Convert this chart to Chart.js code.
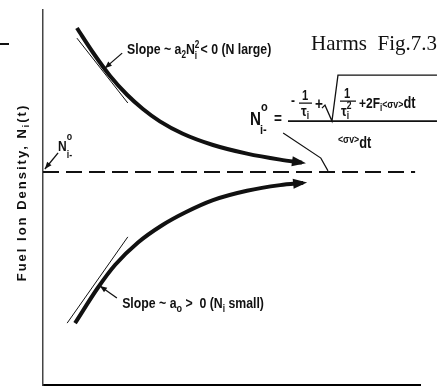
<!DOCTYPE html>
<html lang="en">
<head>
<meta charset="UTF-8">
<title>Harms Fig.7.3</title>
<script src="https://cdn.jsdelivr.net/npm/chart.js"></script>
<style>
  html, body { margin: 0; padding: 0; background: #fff; }
  #wrap { width: 442px; height: 392px; }
</style>
</head>
<body>
<div id="wrap"><canvas id="fig" width="442" height="392"></canvas></div>
<script>
// values (time and ion density in arbitrary units, 0..10)
const upperT = [0.90, 1.33, 1.78, 2.23, 2.65, 3.10, 3.71, 4.51, 5.41, 6.29, 6.87];
const upperN = [9.52, 8.86, 8.24, 7.74, 7.36, 7.03, 6.70, 6.40, 6.17, 6.01, 5.93];

const lowerT = [0.85, 1.46, 1.91, 2.52, 3.16, 3.77, 4.51, 5.41, 6.29, 6.90];
const lowerN = [1.65, 2.60, 3.20, 3.80, 4.26, 4.60, 4.93, 5.18, 5.33, 5.39];

// equilibrium density N_i-^o (dashed)
const eqT = [0, 9.87];
const eqN = [5.68, 5.68];

// tangent lines
const tanUpperT = [0.90, 2.25];
const tanUpperN = [9.25, 7.52];
const tanLowerT = [0.64, 2.25];
const tanLowerN = [1.65, 3.95];

// label pointers
const ptrUpperT = [2.10, 1.64];
const ptrUpperN = [8.85, 8.45];
const ptrLowerT = [1.96, 1.51];
const ptrLowerN = [2.32, 2.64];
const ptrEqT = [0.40, 0.05];
const ptrEqN = [6.19, 5.76];
const ptrFormT = [6.37, 7.37, 7.56];
const ptrFormN = [6.72, 6.05, 5.71];

const INK = '#111';
const SANS = '"Liberation Sans", Arial, sans-serif';

function pts(ts, ns) {
    return ts.map((t, i) => ({ x: t, y: ns[i] }));
}

function line(data, width, extra) {
    return Object.assign({
        data: data,
        showLine: true,
        borderColor: INK,
        borderWidth: width,
        pointRadius: 0,
        fill: false,
        tension: 0
    }, extra || {});
}

// draws a run of text pieces (sub/superscripts) horizontally squeezed by sx
function rich(ctx, x, y, parts, sx, dry) {
    let cx = x;
    parts.forEach(p => {
        ctx.save();
        ctx.font = (p.w || 'bold') + ' ' + p.s + 'px ' + (p.f || SANS);
        const w = ctx.measureText(p.t).width * sx;
        if (!dry) {
            ctx.translate(cx, y + (p.dy || 0));
            ctx.scale(sx, 1);
            ctx.fillText(p.t, 0, 0);
        }
        ctx.restore();
        if (!p.hold) cx += w;
    });
    return cx - x;
}

function head(ctx, tx, ty, fx, fy, len, half) {
    const a = Math.atan2(ty - fy, tx - fx);
    ctx.beginPath();
    ctx.moveTo(tx, ty);
    ctx.lineTo(tx - len * Math.cos(a) + half * Math.sin(a), ty - len * Math.sin(a) - half * Math.cos(a));
    ctx.lineTo(tx - len * Math.cos(a) - half * Math.sin(a), ty - len * Math.sin(a) + half * Math.cos(a));
    ctx.closePath();
    ctx.fill();
}

const decor = {
    id: 'decor',
    afterDatasetsDraw(chart) {
        const ctx = chart.ctx;
        const xs = chart.scales.x, ys = chart.scales.y;
        const P = (t, n) => [xs.getPixelForValue(t), ys.getPixelForValue(n)];
        const area = chart.chartArea;
        ctx.save();
        ctx.fillStyle = INK;
        ctx.strokeStyle = INK;
        ctx.textBaseline = 'alphabetic';

        // arrow heads on the two main curves
        [1, 2].forEach(i => {
            const d = chart.getDatasetMeta(i).data;
            const last = d[d.length - 1];
            const fx = last.cp1x !== undefined ? last.cp1x : d[d.length - 2].x;
            const fy = last.cp1y !== undefined ? last.cp1y : d[d.length - 2].y;
            const a = Math.atan2(last.y - fy, last.x - fx);
            head(ctx, last.x + 4 * Math.cos(a), last.y + 4 * Math.sin(a), fx, fy, 14, 5);
        });
        // small heads on the pointers
        [5, 6, 7].forEach(i => {
            const d = chart.getDatasetMeta(i).data;
            head(ctx, d[1].x, d[1].y, d[0].x, d[0].y, 7, 2.8);
        });

        // curve labels
        let [x, y] = P(2.23, 8.83);
        rich(ctx, x, y, [
            { t: 'Slope ~ a', s: 15 }, { t: '2', s: 10, dy: 4 }, { t: 'N', s: 15 },
            { t: '2', s: 10, dy: -6, hold: true }, { t: 'i', s: 10, dy: 5 },
            { t: ' < 0 (N large)', s: 15 }
        ], 0.82);
        [x, y] = P(2.10, 2.05);
        rich(ctx, x, y, [
            { t: 'Slope ~ a', s: 15 }, { t: 'o', s: 11, dy: 4 }, { t: ' >  0 (N', s: 15 },
            { t: 'i', s: 10, dy: 4 }, { t: ' small)', s: 15 }
        ], 0.82);

        // N_i-^o next to the axis
        [x, y] = P(0.40, 6.24);
        rich(ctx, x, y, [
            { t: 'N', s: 15 }, { t: 'o', s: 11, dy: -11, hold: true }, { t: 'i-', s: 11, dy: 7 }
        ], 0.8);

        // title tag
        [x, y] = P(7.11, 8.93);
        ctx.font = '21px "Liberation Serif", "Times New Roman", serif';
        ctx.fillText('Harms  Fig.7.3', x, y);

        // formula for N_i-^o
        const [ox, oy] = P(5.49, 6.93);
        rich(ctx, ox, oy, [{ t: 'N', s: 19 }], 0.8);
        rich(ctx, ox + 11, oy - 14, [{ t: 'o', s: 13 }], 0.85);
        rich(ctx, ox + 10, oy + 9, [{ t: 'i-', s: 13 }], 0.85);
        rich(ctx, ox + 24, oy - 1, [{ t: '=', s: 16 }], 0.85);
        ctx.lineWidth = 1.6;
        ctx.beginPath();
        ctx.moveTo(ox + 38, oy - 4); ctx.lineTo(ox + 187, oy - 4);
        ctx.stroke();
        rich(ctx, ox + 41, oy - 20, [{ t: '-', s: 15 }], 0.8);
        rich(ctx, ox + 52, oy - 25, [{ t: '1', s: 14 }], 0.8);
        ctx.lineWidth = 1.2;
        ctx.beginPath();
        ctx.moveTo(ox + 49, oy - 22); ctx.lineTo(ox + 62, oy - 22);
        ctx.moveTo(ox + 90, oy - 24); ctx.lineTo(ox + 106, oy - 24);
        ctx.stroke();
        rich(ctx, ox + 51, oy - 9, [{ t: 'τ', s: 15 }, { t: 'i', s: 10, dy: 3 }], 0.85);
        rich(ctx, ox + 65, oy - 16, [{ t: '+', s: 16 }], 0.85);
        ctx.lineWidth = 1.3;
        ctx.beginPath();
        ctx.moveTo(ox + 72, oy - 17);
        ctx.lineTo(ox + 75, oy - 20);
        ctx.lineTo(ox + 82, oy - 4);
        ctx.lineTo(ox + 88, oy - 50);
        ctx.lineTo(ox + 187, oy - 50);
        ctx.stroke();
        rich(ctx, ox + 94, oy - 27, [{ t: '1', s: 14 }], 0.8);
        rich(ctx, ox + 91, oy - 9, [{ t: 'τ', s: 15 }, { t: '2', s: 10, dy: -7, hold: true }, { t: 'i', s: 10, dy: 3 }], 0.85);
        rich(ctx, ox + 109, oy - 17, [
            { t: '+2F', s: 15 }, { t: 'i', s: 10, dy: 3 }, { t: '<σv>', s: 11 }, { t: 'dt', s: 16 }
        ], 0.8);
        rich(ctx, ox + 88, oy + 18, [{ t: '<σv>', s: 11 }, { t: 'dt', s: 16, dy: 5 }], 0.8);

        // axis title, rotated
        const yt = [
            { t: 'Fuel Ion Density, N', s: 13 }, { t: 'i', s: 9, dy: 3 }, { t: '(t)', s: 13 }
        ];
        ctx.save();
        ctx.translate(area.left - 17, (area.top + area.bottom) / 2 - 5);
        ctx.rotate(-Math.PI / 2);
        ctx.letterSpacing = '2px';
        const w = rich(ctx, 0, 0, yt, 1, true);
        rich(ctx, -w / 2, 0, yt, 1);
        ctx.restore();

        // scan remnant of the neighbouring figure
        ctx.fillRect(0, 43, 9, 2);
        ctx.restore();
    }
};

new Chart(document.getElementById('fig'), {
    type: 'scatter',
    data: {
        datasets: [
            line(pts(eqT, eqN), 2, { borderDash: [16, 7] }),
            line(pts(upperT, upperN), 4, { cubicInterpolationMode: 'monotone' }),
            line(pts(lowerT, lowerN), 4, { cubicInterpolationMode: 'monotone' }),
            line(pts(tanUpperT, tanUpperN), 1),
            line(pts(tanLowerT, tanLowerN), 1),
            line(pts(ptrUpperT, ptrUpperN), 1.3),
            line(pts(ptrLowerT, ptrLowerN), 1.3),
            line(pts(ptrEqT, ptrEqN), 1.3),
            line(pts(ptrFormT, ptrFormN), 1.2)
        ]
    },
    options: {
        responsive: false,
        animation: false,
        devicePixelRatio: 1,
        layout: { padding: { left: 43, top: 10, right: 22, bottom: 7 } },
        plugins: { legend: { display: false }, tooltip: { enabled: false } },
        scales: {
            x: {
                type: 'linear', min: 0, max: 10,
                ticks: { display: false },
                grid: { display: false },
                border: { color: '#000', width: 2 },
                afterFit: s => { s.height = 0; }
            },
            y: {
                type: 'linear', min: 0, max: 10,
                ticks: { display: false },
                grid: { display: false },
                border: { color: '#444', width: 1.5 },
                afterFit: s => { s.width = 0; }
            }
        }
    },
    plugins: [decor]
});
</script>
</body>
</html>
